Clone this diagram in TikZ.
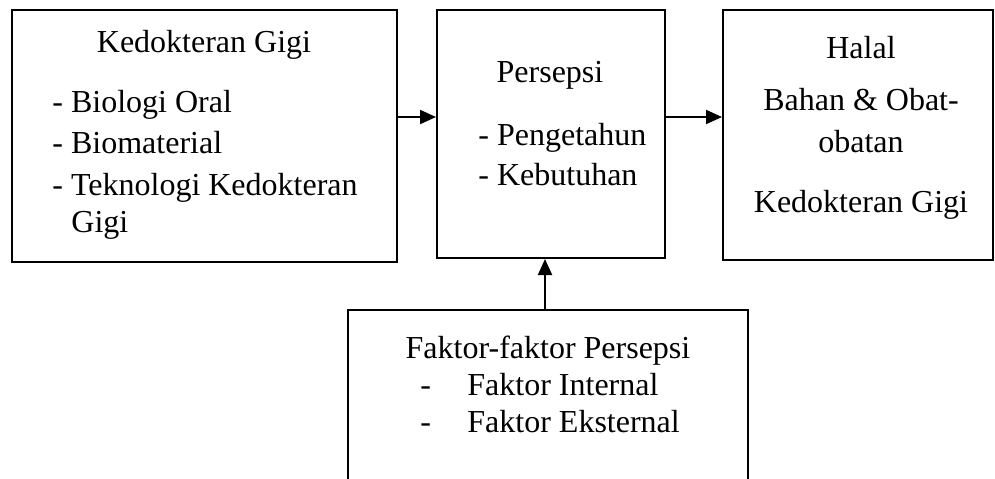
\documentclass[tikz,border=0pt]{standalone}
\usepackage{fontspec}
\setmainfont{Liberation Serif}
\usetikzlibrary{arrows.meta}

\tikzset{
  box/.style={draw, line width=1pt, rectangle, inner sep=0pt},
  txt/.style={inner sep=0pt, font=\fontsize{16}{19}\selectfont},
  arr/.style={line width=1pt, -{Triangle[length=8pt,width=7pt]}},
}

\begin{document}
\begin{tikzpicture}[x=0.5pt,y=-0.5pt]
  \useasboundingbox (0,0) rectangle (995,478); % pixel grid of the page
  \clip (0,0) rectangle (995,478);

  % boxes
  \node[box, minimum width=192.5pt, minimum height=126pt] (kg) at (204.5,136) {};
  \node[box, minimum width=114pt, minimum height=124pt] (ps) at (551,134) {};
  \node[box, minimum width=135pt, minimum height=125pt] (hl) at (858,135) {};
  \node[box, minimum width=200pt, minimum height=105pt] (fk) at (548,415) {};

  % Kedokteran Gigi
  \node[txt, anchor=base] (kgT) at (204,52) {Kedokteran Gigi};
  \foreach \y/\t [count=\i] in {112/Biologi Oral, 153/Biomaterial, 195/Teknologi Kedokteran} {
    \node[txt, anchor=base west] (kg\i) at (52,\y) {- \t};
  }
  \node[txt, anchor=base west] (kg4) at (71,232) {Gigi};

  % Persepsi
  \node[txt, anchor=base] (psT) at (550,82) {Persepsi};
  \foreach \y/\t [count=\i] in {145/Pengetahun, 185/Kebutuhan} {
    \node[txt, anchor=base west] (ps\i) at (478,\y) {- \t};
  }

  % Halal
  \foreach \y/\t [count=\i] in {58/Halal, 110/Bahan \& Obat-, 152/obatan, 212/Kedokteran Gigi} {
    \node[txt, anchor=base] (hl\i) at (861,\y) {\t};
  }

  % Faktor-faktor
  \node[txt, anchor=base] (fkT) at (548,358) {Faktor-faktor Persepsi};
  \foreach \y/\t [count=\i] in {395/Faktor Internal, 432/Faktor Eksternal} {
    \node[txt, anchor=base west] (fkd\i) at (420,\y) {-};
    \node[txt, anchor=base west] (fk\i) at (467,\y) {\t};
  }

  % arrows
  \draw[arr] ([yshift=9.5pt]kg.east) -- ([yshift=9.5pt]kg.east -| ps.west);
  \draw[arr] ([yshift=8.5pt]ps.east) -- ([yshift=8.5pt]ps.east -| hl.west);
  \draw[arr] ([xshift=-1.5pt]fk.north) -- ([xshift=-1.5pt]fk.north |- ps.south);
\end{tikzpicture}
\end{document}
